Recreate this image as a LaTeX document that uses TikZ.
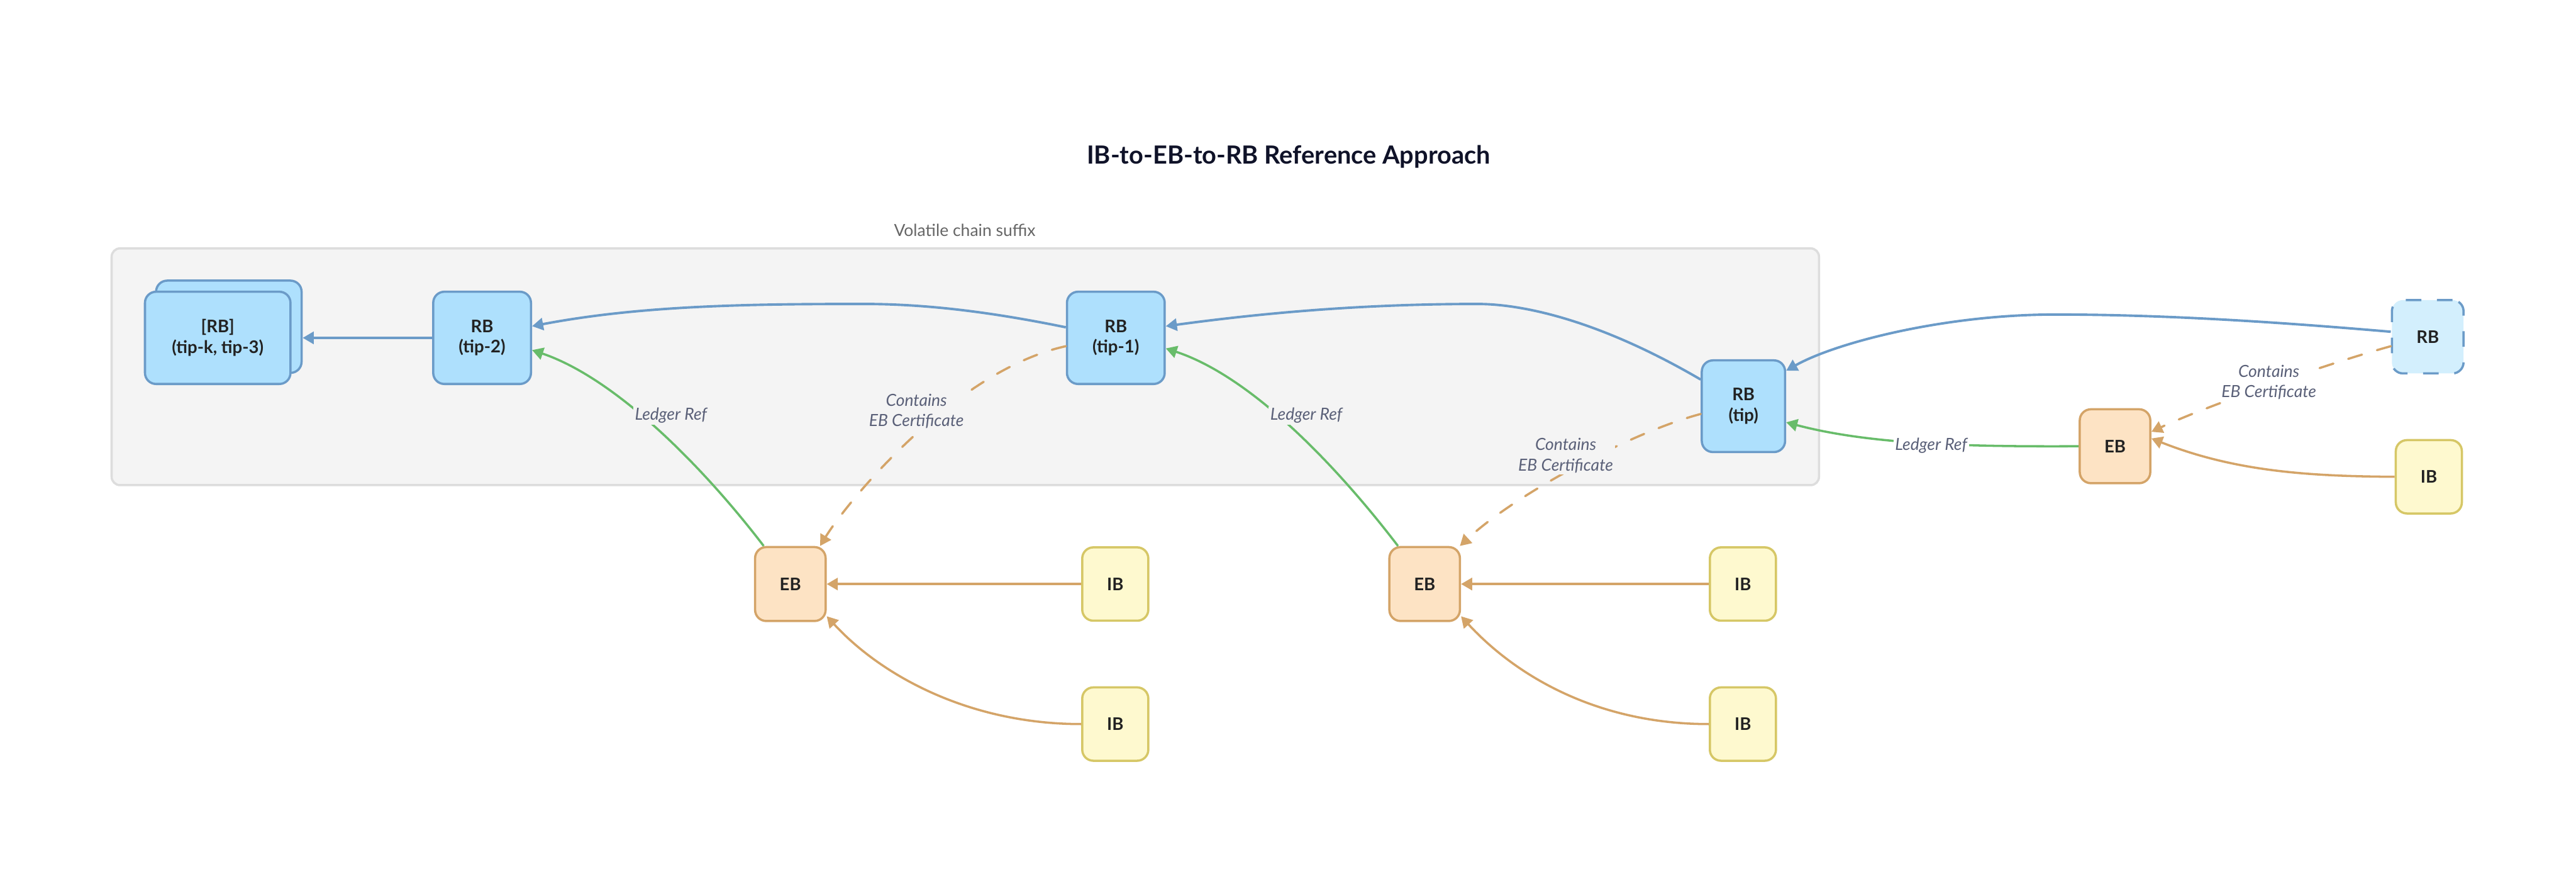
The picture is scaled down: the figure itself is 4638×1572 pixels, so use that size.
\documentclass[tikz,border=0pt]{standalone}
\usepackage{fontspec}
\setmainfont{Lato}
\usetikzlibrary{arrows.meta}
\definecolor{rbfill}{HTML}{AEE0FD}
\definecolor{rbline}{HTML}{6B9BC8}
\definecolor{futfill}{HTML}{D3EFFD}
\definecolor{ebfill}{HTML}{FDE3C4}
\definecolor{ebline}{HTML}{D4A468}
\definecolor{ibfill}{HTML}{FEF9CF}
\definecolor{ibline}{HTML}{D6C766}
\definecolor{grn}{HTML}{68BC6A}
\definecolor{lbltxt}{HTML}{5A6078}
\definecolor{txt}{HTML}{222222}
\definecolor{titlec}{HTML}{0F1228}
\definecolor{contfill}{HTML}{F4F4F4}
\definecolor{contline}{HTML}{DDDDDD}
\definecolor{contlbl}{HTML}{666666}
\newcommand\myNodeFont{\fontsize{15.6}{18.5}\selectfont\bfseries}
\newcommand\myLblFont{\fontsize{15}{18.5}\selectfont\itshape}
\newcommand\myTitleFont{\fontsize{22.5}{27}\selectfont\bfseries}
\newcommand\mySmallFont{\fontsize{15}{18}\selectfont}
\begin{document}
\begin{tikzpicture}[x=0.5pt,y=-0.5pt,
  base/.style={draw, line width=2pt, rounded corners=10pt, inner sep=0pt, align=center, font=\myNodeFont, text=txt},
  rbbox/.style={base, fill=rbfill, draw=rbline, minimum height=83pt},
  futbox/.style={base, fill=futfill, draw=rbline, dash pattern=on 14pt off 14pt, minimum width=64.5pt, minimum height=66pt},
  ebbox/.style={base, fill=ebfill, draw=ebline, minimum width=63.5pt, minimum height=66.5pt},
  ibbox/.style={base, fill=ibfill, draw=ibline, minimum width=59.5pt, minimum height=66pt},
  tipA/.style={-{Triangle[length=10pt,width=11pt]}},
  bluearr/.style={draw=rbline, line width=2.2pt, tipA},
  greenarr/.style={draw=grn, line width=2pt, tipA},
  orarr/.style={draw=ebline, line width=2pt, tipA},
  dasharr/.style={orarr, dash pattern=on 13pt off 14pt, line cap=round},
  lbl/.style={font=\myLblFont, text=lbltxt, align=center, inner sep=1.5pt},
  container/.style={draw=contline, fill=contfill, line width=2pt, rounded corners=7.5pt, minimum width=1537pt, minimum height=213pt, inner sep=0pt}
]
\useasboundingbox (0,0) rectangle (4638,1572);
\fill[white] (0,0) rectangle (4638,1572);

% title
\node[font=\myTitleFont, text=titlec, anchor=base] (title) at (2320,295) {IB-to-EB-to-RB Reference Approach};

% container
\node[container] (suffix) at (1738,660) {};
\node[font=\mySmallFont, text=contlbl] (suffixlbl) at (1737,414) {Volatile chain suffix};

% RB nodes
\node[rbbox, minimum width=131pt] (stackback) at (412,588) {};
\node[rbbox, minimum width=131pt] (stack) at (392,608) {[RB]\\(tip-k, tip-3)};
\node[rbbox, minimum width=88pt] (tip2) at (868,608) {RB\\(tip-2)};
\node[rbbox, minimum width=88pt] (tip1) at (2009,608) {RB\\(tip-1)};
\node[rbbox, minimum width=75pt, minimum height=82.5pt] (tip) at (3139,731) {RB\\(tip)};
\node[futbox] (future) at (4371,606) {RB};

% EB nodes
\node[ebbox] (ebL) at (1423,1051) {EB};
\node[ebbox] (ebM) at (2565,1051) {EB};
\node[ebbox] (ebR) at (3808,803) {EB};

% IB nodes
\node[ibbox] (ibL1) at (2008,1051) {IB};
\node[ibbox] (ibL2) at (2008,1303) {IB};
\node[ibbox] (ibM1) at (3138,1051) {IB};
\node[ibbox] (ibM2) at (3138,1303) {IB};
\node[ibbox] (ibR) at (4373,858) {IB};

% chain arrows
\draw[bluearr] (tip2.west) -- (tip2.west -| stackback.east);
\draw[bluearr] ([yshift=9.5pt]tip1.west) .. controls (1797,564) and (1676,547) .. (1556,547)
   .. controls (1356,547) and (1157,549) .. ([yshift=10.5pt]tip2.east);
\draw[bluearr] ([yshift=24pt]tip.west) .. controls (2848,558) and (2710,547) .. (2660,547)
   .. controls (2460,547) and (2283,562) .. ([yshift=10.5pt]tip1.east);
\draw[bluearr] ([yshift=4.5pt]future.west) .. controls (4107,580) and (3900,566) .. (3700,566)
   .. controls (3500,566) and (3304,617) .. ([yshift=32pt]tip.east);

% ledger refs
\draw[greenarr] ([xshift=-24pt]ebL.north) .. controls (1266,840) and (1109,681) .. ([yshift=-11pt]tip2.east);
\draw[greenarr] ([xshift=-24pt]ebM.north) .. controls (2408,840) and (2254,678) .. ([yshift=-9.5pt]tip1.east);
\draw[greenarr] (ebR.west) .. controls (3543,804) and (3367,800) .. ([yshift=-14.5pt]tip.east);

% certificates
\draw[dasharr] ([yshift=-7.5pt]tip1.west) .. controls (1718,667) and (1524,905) .. ([xshift=-6pt]ebL.north east);
\draw[dasharr] ([yshift=-7pt]tip.west) .. controls (2940,777) and (2730,888) .. ([xshift=-1pt]ebM.north east);
\draw[dasharr] ([yshift=-8.5pt]future.west) .. controls (4175,659) and (3965,734) .. ([yshift=13pt]ebR.east);

% IB to EB
\draw[orarr] (ibL1.west) -- (ebL.east);
\draw[orarr] (ibM1.west) -- (ebM.east);
\draw[orarr] (ibL2.west) .. controls (1748,1303) and (1589,1218) .. ([yshift=-29pt]ebL.east);
\draw[orarr] (ibM2.west) .. controls (2878,1303) and (2731,1218) .. ([yshift=-29pt]ebM.east);
\draw[orarr] (ibR.west) .. controls (4160,857) and (4025,849) .. ([yshift=7pt]ebR.east);

% labels
\node[lbl, fill=contfill] (lrL) at (1208,748) {Ledger Ref};
\node[lbl, fill=contfill] (lrM) at (2352,748) {Ledger Ref};
\node[lbl, fill=white] (lrR) at (3477,802) {Ledger Ref};
\node[lbl, fill=contfill] (ceL) at (1650,740) {Contains\\EB Certificate};
\node[lbl, fill=contfill] (ceM) at (2819,820) {Contains\\EB Certificate};
\node[lbl, fill=white] (ceR) at (4085,688) {Contains\\EB Certificate};
\end{tikzpicture}
\end{document}
